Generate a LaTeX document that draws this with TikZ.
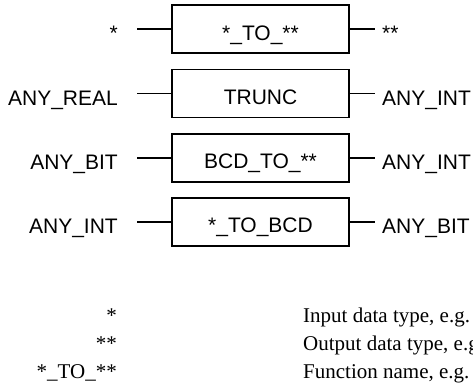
\documentclass[tikz,border=0pt]{standalone}
\usepackage{fontspec}
\setmainfont{Liberation Serif}
\setsansfont{Liberation Sans}
\begin{document}
\begin{tikzpicture}[x=1pt, y=-1pt,
  fbox/.style={draw, line width=1.8pt, minimum width=177pt, minimum height=48pt,
    inner sep=0pt, text height=22pt, text depth=0pt,
    font=\sffamily\fontsize{21}{25}\selectfont},
  wire/.style={line width=1.8pt},
  sig/.style={inner sep=0pt, font=\sffamily\fontsize{21}{25}\selectfont},
  leg/.style={inner sep=0pt, font=\rmfamily\fontsize{21}{25}\selectfont}]
\useasboundingbox (0,0) rectangle (473,391);

% function blocks
\node[fbox] (f1) at (260.5,29)    {*\_TO\_**};
\node[fbox] (f2) at (260.5,93.5)  {TRUNC};
\node[fbox] (f3) at (260.5,157.8) {BCD\_TO\_**};
\node[fbox] (f4) at (260.5,221.8) {*\_TO\_BCD};

% input and output wire ends
\coordinate (i1) at (137,29);    \coordinate (o1) at (375,29);
\coordinate (i2) at (137,93.5);  \coordinate (o2) at (375,93.5);
\coordinate (i3) at (137,157.8); \coordinate (o3) at (375,157.8);
\coordinate (i4) at (137,221.8); \coordinate (o4) at (375,221.8);

\foreach \k in {1,...,4}{
  \draw[wire] (i\k) -- (f\k.west);
  \draw[wire] (f\k.east) -- (o\k);
}

% signal types
\node[sig, anchor=base east] (a1) at (118,40.5)  {*};
\node[sig, anchor=base east] (a2) at (118,105)   {ANY\_REAL};
\node[sig, anchor=base east] (a3) at (118,169)   {ANY\_BIT};
\node[sig, anchor=base east] (a4) at (118,233)   {ANY\_INT};
\node[sig, anchor=base west] (b1) at (382,40.5)  {**};
\node[sig, anchor=base west] (b2) at (382,105)   {ANY\_INT};
\node[sig, anchor=base west] (b3) at (382,169)   {ANY\_INT};
\node[sig, anchor=base west] (b4) at (382,233)   {ANY\_BIT};

% legend
\node[leg, anchor=base east] (k1) at (117,322) {*};
\node[leg, anchor=base east] (k2) at (117,350) {**};
\node[leg, anchor=base east] (k3) at (117,378) {*\_TO\_**};
\node[leg, anchor=base west] (d1) at (303,322) {Input data type, e.g.};
\node[leg, anchor=base west] (d2) at (303,350) {Output data type, e.g.};
\node[leg, anchor=base west] (d3) at (303,378) {Function name, e.g.};
\end{tikzpicture}
\end{document}
